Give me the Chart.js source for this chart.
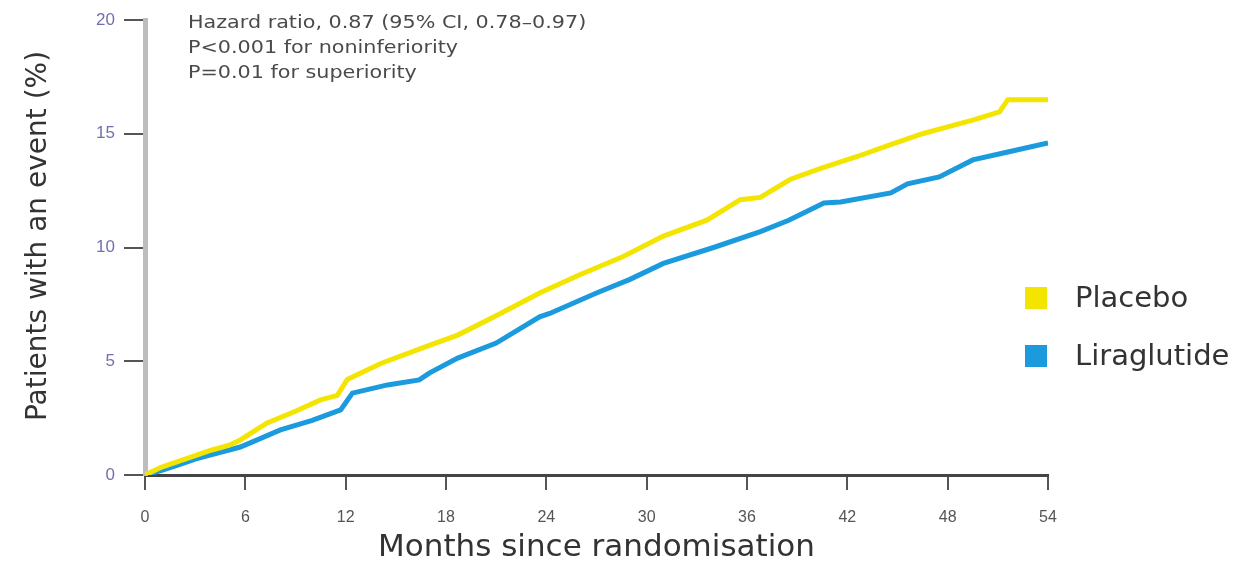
<!DOCTYPE html>
<html>
<head>
<meta charset="utf-8">
<script src="https://cdn.jsdelivr.net/npm/chart.js@4/dist/chart.umd.min.js"></script>
<style>
  html, body { margin: 0; padding: 0; background: #fff; }
  #wrap { width: 1238px; height: 567px; }
</style>
</head>
<body>
<div id="wrap"><canvas id="kmChart"></canvas></div>
<script>
// --- Data ---
const seriesNames = ['Placebo', 'Liraglutide'];

const placeboMonths = [0, 1, 2, 3, 4, 5, 5.7, 7.3, 9, 10.5, 11.5, 12.1, 14.1, 17, 18.7, 21, 23.6, 26, 28.6, 31, 33.6, 35.6, 36.8, 38.6, 40.5, 42.6, 44.5, 46.5, 48, 49.5, 51.1, 51.6, 54];
const placeboPct = [0, 0.35, 0.6, 0.85, 1.1, 1.3, 1.54, 2.29, 2.8, 3.3, 3.5, 4.2, 4.9, 5.7, 6.15, 7.0, 8.0, 8.8, 9.6, 10.5, 11.2, 12.1, 12.2, 13.0, 13.5, 14.0, 14.5, 15.0, 15.3, 15.6, 15.96, 16.5, 16.5];

const liraMonths = [0, 1, 2, 3, 4, 5.7, 8.1, 10, 11.7, 12.4, 14.5, 16.4, 17, 18.7, 21, 23.6, 24.2, 27, 29, 31, 34, 36.8, 38.5, 40.6, 41.6, 44.6, 45.6, 47.5, 49.5, 51.6, 54];
const liraPct = [0, 0.2, 0.45, 0.7, 0.9, 1.23, 1.98, 2.4, 2.86, 3.6, 3.96, 4.18, 4.48, 5.14, 5.8, 6.95, 7.1, 8.0, 8.6, 9.3, 10.0, 10.7, 11.2, 11.96, 12.0, 12.4, 12.8, 13.1, 13.85, 14.2, 14.6];

const xTicks = [0, 6, 12, 18, 24, 30, 36, 42, 48, 54];
const yTicks = [0, 5, 10, 15, 20];

const yTitle = 'Patients with an event (%)';
const xTitle = 'Months since randomisation';
const statLines = [
    'Hazard ratio, 0.87 (95% CI, 0.78\u20130.97)',
    'P<0.001 for noninferiority',
    'P=0.01 for superiority'
];

// --- Styling ---
const COLORS = { placebo: '#f3e500', lira: '#1c9ade' };
const FONT = '"Liberation Sans", Arial, sans-serif';
const WIDE = '"DejaVu Sans", sans-serif';

const toPoints = (xs, ys) => xs.map((x, i) => ({ x: x, y: ys[i] }));

// stats text + rotated y title
const textPlugin = {
    id: 'texts',
    afterDraw(chart) {
        const ctx = chart.ctx;
        ctx.save();
        ctx.translate(188, 0);
        ctx.scale(1.15, 1);   // the source text is a bit stretched sideways
        ctx.font = '18px ' + WIDE;
        ctx.fillStyle = '#4a4a4a';
        ctx.textBaseline = 'middle';
        statLines.forEach((line, i) => ctx.fillText(line, 0, 23 + i * 25));
        ctx.restore();

        ctx.save();
        ctx.translate(39, 236);
        ctx.rotate(-Math.PI / 2);
        ctx.textAlign = 'center';
        ctx.textBaseline = 'middle';
        ctx.font = '28px ' + WIDE;
        ctx.fillStyle = '#333';
        ctx.fillText(yTitle, 0, 0);
        ctx.restore();
    }
};

// legend on the right, squares + names
const sideLegend = {
    id: 'sideLegend',
    afterDraw(chart) {
        const ctx = chart.ctx;
        ctx.save();
        ctx.font = '29px ' + WIDE;
        ctx.textBaseline = 'middle';
        chart.data.datasets.forEach((ds, i) => {
            const cy = 298 + i * 58;
            ctx.fillStyle = ds.borderColor;
            ctx.fillRect(1025, cy - 11, 22, 22);
            ctx.fillStyle = '#333';
            ctx.fillText(ds.label, 1075, cy + 1);
        });
        ctx.restore();
    }
};

new Chart(document.getElementById('kmChart'), {
    type: 'line',
    data: {
        datasets: [
            { label: seriesNames[0], data: toPoints(placeboMonths, placeboPct), borderColor: COLORS.placebo, backgroundColor: COLORS.placebo, borderWidth: 5, pointRadius: 0, tension: 0 },
            { label: seriesNames[1], data: toPoints(liraMonths, liraPct), borderColor: COLORS.lira, backgroundColor: COLORS.lira, borderWidth: 5, pointRadius: 0, tension: 0 }
        ]
    },
    options: {
        responsive: true,
        maintainAspectRatio: false,
        animation: false,
        layout: { padding: { left: 0, top: 20, right: 190, bottom: 0 } },
        plugins: { legend: { display: false }, tooltip: { enabled: false } },
        scales: {
            x: {
                type: 'linear', min: 0, max: 54,
                afterBuildTicks: (s) => { s.ticks = xTicks.map(v => ({ value: v })); },
                afterFit: (s) => { s.height = 92; },
                border: { color: '#444', width: 3 },
                grid: { drawOnChartArea: false, drawTicks: true, tickLength: 15, color: '#555', lineWidth: 2 },
                ticks: { color: '#555', padding: 18, font: { family: FONT, size: 16 } },
                title: { display: true, text: xTitle, color: '#333', padding: { top: 0, bottom: 0 }, font: { family: WIDE, size: 31 } }
            },
            y: {
                min: 0, max: 20,
                afterBuildTicks: (s) => { s.ticks = yTicks.map(v => ({ value: v })); },
                afterFit: (s) => { s.width = 145; },
                border: { color: '#bdbdbd', width: 5 },
                grid: { drawOnChartArea: false, drawTicks: true, tickLength: 21, color: '#555', lineWidth: 2 },
                ticks: { color: '#7070b0', padding: 9, font: { family: FONT, size: 17 } }
            }
        }
    },
    plugins: [textPlugin, sideLegend]
});
</script>
</body>
</html>
